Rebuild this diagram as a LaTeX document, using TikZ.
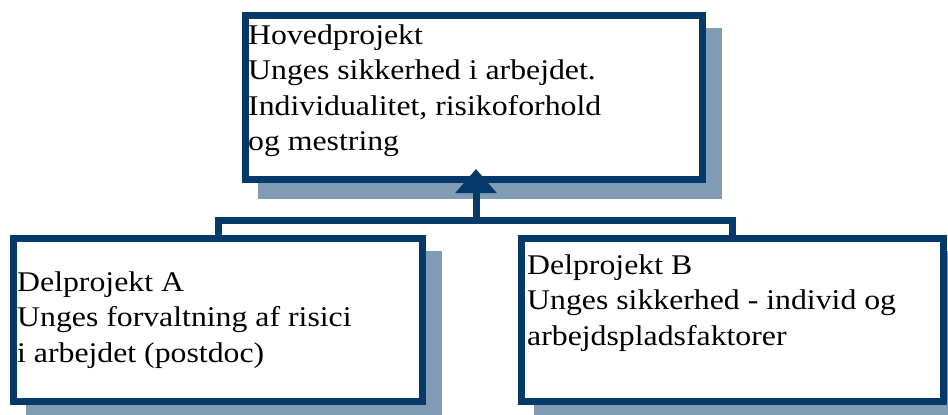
\documentclass[tikz,border=0pt]{standalone}
\usepackage{fontspec}
\setmainfont{Liberation Serif}[FakeStretch=1.115]
\usetikzlibrary{arrows.meta,backgrounds}
\definecolor{navy}{RGB}{4,57,106}
\definecolor{shadowc}{RGB}{127,156,180}
\begin{document}
\begin{tikzpicture}[x=1pt,y=-1pt,
  box/.style={draw=navy,fill=white,line width=7pt,rectangle,inner sep=0pt,line join=miter},
  conn/.style={draw=navy,line width=7pt,line join=miter},
  label/.style={anchor=base west,inner sep=0pt,align=left,
    font=\fontsize{28.5}{35.5}\selectfont,text=black}]
\useasboundingbox (0,0) rectangle (948,415);
% boxes
\node[box,minimum width=457pt,minimum height=164pt] (top) at (474,97.5) {};
\node[box,minimum width=409pt,minimum height=163pt] (A) at (218,320) {};
\node[box,minimum width=422pt,minimum height=163pt] (B) at (732.5,320) {};
% shadows
\begin{scope}[on background layer]
  \foreach \n in {top,A,B}
    \fill[shadowc] ([shift={(16pt,-16pt)}]\n.south west) rectangle ([shift={(16pt,-16pt)}]\n.north east);
\end{scope}
% texts (anchored at the baseline of the last line)
\node[label] (ttop) at (248,150.5) {Hovedprojekt\\Unges sikkerhed i arbejdet.\\Individualitet, risikoforhold\\og mestring};
\node[label] (tA) at (17,362) {Delprojekt A\\Unges forvaltning af risici\\i arbejdet (postdoc)};
\node[label] (tB) at (527,345) {Delprojekt B\\Unges sikkerhed - individ og\\arbejdspladsfaktorer};
% connectors
\draw[conn] (A.north) -- ++(0,-15) -| (B.north);
\coordinate (j) at (476,220);
\draw[conn,-{Triangle[width=40pt,length=24pt]}] (j) -- ([yshift=14pt]top.south -| j);
\end{tikzpicture}
\end{document}
